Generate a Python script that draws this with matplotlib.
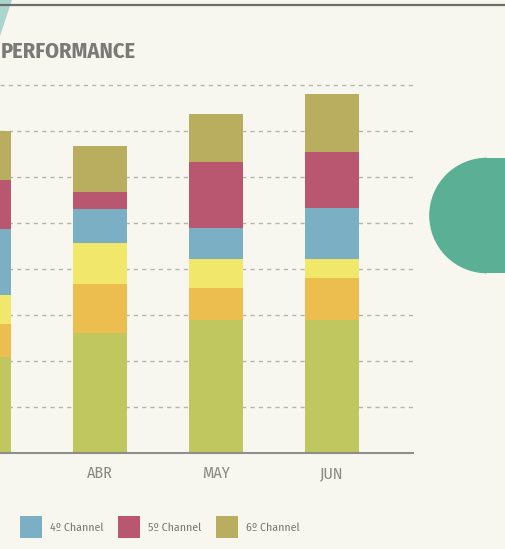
import matplotlib.pyplot as plt
from matplotlib.patches import Rectangle, Polygon, Wedge
import numpy as np

plt.rcParams['font.family'] = ['Fira Sans Condensed', 'DejaVu Sans']

months = ['MAR', 'ABR', 'MAY', 'JUN']
channels = ['1º Channel', '2º Channel', '3º Channel',
            '4º Channel', '5º Channel', '6º Channel']

ch1 = [20.9, 26.1, 28.9, 28.9]
ch2 = [7.1, 10.6, 7.0, 9.1]
ch3 = [6.3, 9.0, 6.3, 4.2]
ch4 = [14.4, 7.4, 6.7, 11.0]
ch5 = [10.6, 3.6, 14.4, 12.3]
ch6 = [10.7, 10.1, 10.4, 12.5]

colors = ['#C0C75F', '#ECBD4F', '#F1E76A', '#7BB0C4', '#B95670', '#B9AD5F']

W, H = 506, 549
BG = '#F7F6EF'


def fx(x):
    return x / W


def fy(y):
    return 1 - y / H


fig = plt.figure(figsize=(W / 100, H / 100), dpi=100)
fig.patch.set_facecolor(BG)

# decorations
fig.patches.append(Polygon([(fx(0), fy(0)), (fx(12), fy(0)), (fx(0), fy(36))],
                           closed=True, transform=fig.transFigure,
                           facecolor='#A9D5CC', edgecolor='none'))
fig.add_artist(plt.Line2D([0, 1], [fy(5), fy(5)], transform=fig.transFigure,
                          color='#6E6E6A', lw=1.6))

# axes: left edge at x=0, right at 413 px, baseline at 453 px
ax = fig.add_axes([0, fy(453), fx(413), (453 - 75.8) / H])
ax.set_facecolor('none')

series = [ch1, ch2, ch3, ch4, ch5, ch6]
x = np.arange(len(months))
bottom = np.zeros(len(months))
for vals, c in zip(series, colors):
    ax.bar(x, vals, width=0.466, bottom=bottom, color=c, zorder=3)
    bottom += np.array(vals)

ax.set_xticks(x)
ax.set_xticklabels(months, fontsize=11.5, color='#8A8A86')
ax.set_xlim(16 / 116, 429 / 116)
ax.set_ylim(0, 82)
ax.set_yticks(np.arange(10, 81, 10))
ax.yaxis.grid(True, linestyle=(0, (3, 3)), color='#B5B5B0', lw=1, zorder=0)
ax.tick_params(axis='y', left=False, labelleft=False)
ax.tick_params(axis='x', length=0, pad=9)
for s in ['top', 'right', 'left']:
    ax.spines[s].set_visible(False)
ax.spines['bottom'].set_color('#8E8E8A')
ax.spines['bottom'].set_linewidth(1.5)
ax.spines['bottom'].set_zorder(4)

# title
fig.text(fx(1), fy(52), 'PERFORMANCE', ha='left', va='center',
         fontsize=16, fontweight='bold', color='#7A7A76')

# legend drawn by hand
for k, (name, c) in enumerate(zip(channels, colors)):
    lx = 20 + 98 * (k - 3)
    if lx < 0:
        continue
    fig.patches.append(Rectangle((fx(lx), fy(538)), 22 / W, 22 / H,
                                 transform=fig.transFigure, facecolor=c,
                                 edgecolor='none'))
    fig.text(fx(lx + 30), fy(528), name, ha='left', va='center',
             fontsize=8.5, color='#7A7A76')

# green half-stadium on the right
fig.patches.append(Wedge((487, H - 215.5), 57.8, 90, 270,
                         transform=None, facecolor='#5BAF94', edgecolor='none'))
fig.patches.append(Rectangle((fx(487), fy(273.3)), 19 / W, 115.6 / H,
                             transform=fig.transFigure, facecolor='#5BAF94',
                             edgecolor='none'))

fig.savefig('out.png', dpi=100, facecolor=BG)
